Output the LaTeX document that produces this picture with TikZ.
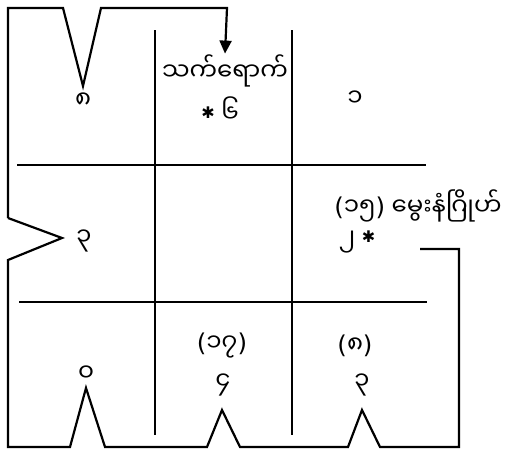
\documentclass[tikz,border=0pt]{standalone}
\usepackage{fontspec}
\newfontfamily\mmfont[Script=Myanmar]{Noto Sans Myanmar UI}
\newfontfamily\symfont{DejaVu Sans}
\usetikzlibrary{arrows.meta}
\newcommand{\str}{\raisebox{4pt}{\symfont\fontsize{16}{16}\selectfont ✱}}
\newcommand{\lpar}{{\symfont(}}
\newcommand{\rpar}{{\symfont)}}
\begin{document}
\begin{tikzpicture}[x=1pt,y=-1pt, every node/.style={font=\mmfont\fontsize{24.5}{26}\selectfont,inner sep=1pt},
  wall/.style={draw,line width=2.2pt,line join=miter},
  grid/.style={draw,line width=2pt}]
\useasboundingbox (0,0) rectangle (506,455);
\fill[white] (0,0) rectangle (506,455);
% labels
\node (attack) at (225,71) {သက်ရောက်};
\node (six) at (220,110) {\str\ ၆};
\node (eight) at (83,101) {၈};
\node (one) at (355,99) {၁};
\node (birth) at (418,206) {\lpar၁၅\rpar\ မွေးနံဂြိုဟ်};
\node (two) at (357,242) {၂ \str};
\node (threeL) at (84,241) {၃};
\node (seventeen) at (222,346) {\lpar၁၇\rpar};
\node (eightB) at (355,346) {\lpar၈\rpar};
\node (zero) at (86,374) {၀};
\node (four) at (223,385) {၄};
\node (threeB) at (362,385) {၃};
\coordinate (tail) at (420,249);
% grid
\draw[grid] (155,30) -- (155,435);
\draw[grid] (292,30) -- (292,435);
\draw[grid] (17,165) -- (426,165);
\draw[grid] (19,302) -- (427,302);
% outer wall
\draw[wall,-{Triangle[length=13pt,width=12pt]}] (8,218) -- (8,8) -- (63,8) -- (83,86) -- (101,8) -- (227,8) -- (attack.north);
\draw[wall] (8,218) -- (62,238) -- (8,260) -- (8,447) -- (70,447) -- (86,388) -- (105,447)
  -- (207,447) -- (222,410) -- (240,447) -- (348,447) -- (362,410) -- (380,447)
  -- (459,447) -- (459,249) -- (tail);
\end{tikzpicture}
\end{document}
